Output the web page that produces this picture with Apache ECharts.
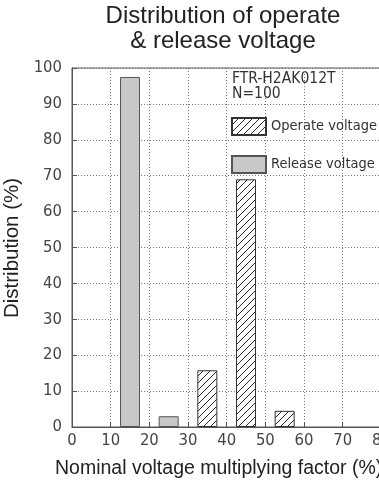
<!DOCTYPE html>
<html>
<head>
<meta charset="utf-8">
<script src="https://cdn.jsdelivr.net/npm/echarts@6/dist/echarts.min.js"></script>
<style>
html,body{margin:0;padding:0;background:#fff;}
#c{width:379px;height:489px;}
</style>
</head>
<body>
<div id="c"></div>
<script>
var titleLines = ['Distribution of operate', '& release voltage'];
var xAxisName = 'Nominal voltage multiplying factor (%)';
var yAxisName = 'Distribution (%)';
var noteLines = ['FTR-H2AK012T', 'N=100'];
var seriesNames = ['Operate voltage', 'Release voltage'];
var releaseX = [15, 25];
var releaseY = [97.5, 3];
var operateX = [35, 45, 55];
var operateY = [15.8, 69, 4.5];

function hatch() {
  var c = document.createElement('canvas');
  c.width = 7; c.height = 7;
  var g = c.getContext('2d');
  g.fillStyle = '#fff';
  g.fillRect(0, 0, 7, 7);
  g.strokeStyle = '#111';
  g.lineWidth = 0.9;
  g.beginPath();
  g.moveTo(-1, 8); g.lineTo(8, -1);
  g.moveTo(-1, 1); g.lineTo(1, -1);
  g.moveTo(6, 8); g.lineTo(8, 6);
  g.stroke();
  return c;
}

function pairs(xs, ys) { return xs.map(function (x, i) { return [x, ys[i]]; }); }

var NARROW = '"Liberation Sans Narrow", "DejaVu Sans Condensed", "Noto Sans"';
var chart = echarts.init(document.getElementById('c'), null, {renderer: 'canvas'});
var tickFont = {fontFamily: NARROW, fontSize: 16.5, color: '#444'};
chart.setOption({
  animation: false,
  backgroundColor: '#fff',
  grid: {left: 72, top: 68, width: 348, height: 359, outerBoundsMode: 'none', containLabel: false, show: true, borderColor: '#555', borderWidth: 1, backgroundColor: 'transparent'},
  xAxis: {
    type: 'value', min: 0, max: 90, interval: 10,
    axisLine: {lineStyle: {color: '#555', width: 1}},
    axisTick: {show: true, inside: true, length: 5, lineStyle: {color: '#555'}},
    axisLabel: Object.assign({margin: 5}, tickFont),
    splitLine: {show: true, lineStyle: {color: '#777', type: [1, 2], width: 1}}
  },
  yAxis: {
    type: 'value', min: 0, max: 100, interval: 10,
    axisLine: {show: true, lineStyle: {color: '#555', width: 1}},
    axisTick: {show: true, inside: true, length: 5, lineStyle: {color: '#555'}},
    axisLabel: Object.assign({margin: 10}, tickFont),
    splitLine: {show: true, lineStyle: {color: '#777', type: [1, 2], width: 1}}
  },
  legend: {
    orient: 'vertical', left: 231, top: 117, padding: 0, itemWidth: 34, itemHeight: 17, itemGap: 19,
    icon: 'rect',
    data: seriesNames,
    textStyle: {fontFamily: NARROW, fontSize: 14.5, color: '#333'}
  },
  series: [
    {
      name: seriesNames[0], type: 'bar', barWidth: 20, barGap: '-100%',
      data: pairs(operateX, operateY),
      itemStyle: {color: {image: hatch(), repeat: 'repeat'}, borderColor: '#333', borderWidth: 1}
    },
    {
      name: seriesNames[1], type: 'bar', barWidth: 20, barGap: '-100%',
      data: pairs(releaseX, releaseY),
      itemStyle: {color: '#c8c8c8', borderColor: '#555', borderWidth: 1}
    }
  ],
  graphic: [
    {type: 'text', x: 223, y: 28, style: {text: titleLines[0], font: '24px "Liberation Sans"', fill: '#222', textAlign: 'center', textVerticalAlign: 'bottom'}},
    {type: 'text', x: 223, y: 53, style: {text: titleLines[1], font: '24px "Liberation Sans"', fill: '#222', textAlign: 'center', textVerticalAlign: 'bottom'}},
    {type: 'text', x: 55, y: 469, style: {text: xAxisName, font: '19.5px "Liberation Sans"', fill: '#222', textAlign: 'left', textVerticalAlign: 'middle'}},
    {type: 'text', x: 12, y: 248, rotation: Math.PI / 2, style: {text: yAxisName, font: '20.5px "Liberation Sans"', fill: '#222', textAlign: 'center', textVerticalAlign: 'middle'}},
    {type: 'text', x: 232, y: 79, style: {text: noteLines[0], font: '15.5px ' + NARROW, fill: '#333', textAlign: 'left', textVerticalAlign: 'middle'}},
    {type: 'text', x: 232, y: 94, style: {text: noteLines[1], font: '15.5px ' + NARROW, fill: '#333', textAlign: 'left', textVerticalAlign: 'middle'}}
  ]
});
</script>
</body>
</html>
